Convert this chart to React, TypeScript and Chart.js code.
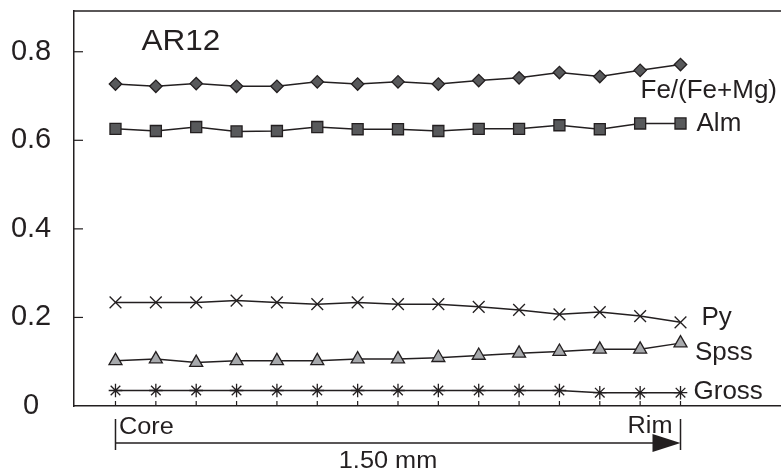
import { useEffect, useRef } from 'react';
import { Chart, registerables } from 'chart.js';

Chart.register(...registerables);

// ---- data ----
const pointIndex = [0, 1, 2, 3, 4, 5, 6, 7, 8, 9, 10, 11, 12, 13, 14];
const feMg = [0.727, 0.722, 0.728, 0.722, 0.722, 0.732, 0.727, 0.732, 0.727, 0.735, 0.741, 0.753, 0.744, 0.758, 0.771];
const alm = [0.626, 0.621, 0.630, 0.620, 0.621, 0.630, 0.625, 0.625, 0.621, 0.626, 0.626, 0.634, 0.625, 0.638, 0.638];
const py = [0.234, 0.234, 0.234, 0.238, 0.234, 0.230, 0.234, 0.230, 0.230, 0.224, 0.217, 0.207, 0.212, 0.203, 0.189];
const spss = [0.102, 0.106, 0.098, 0.102, 0.102, 0.102, 0.106, 0.106, 0.109, 0.114, 0.119, 0.123, 0.128, 0.128, 0.142];
const gross = [0.035, 0.035, 0.035, 0.035, 0.035, 0.035, 0.035, 0.035, 0.035, 0.035, 0.035, 0.035, 0.030, 0.030, 0.030];
const yTickValues = [0, 0.2, 0.4, 0.6, 0.8];
const seriesNames = ['Fe/(Fe+Mg)', 'Alm', 'Py', 'Spss', 'Gross'];
const sampleName = 'AR12';
const coreLabel = 'Core';
const rimLabel = 'Rim';
const distanceLabel = '1.50 mm';

const seriesValues = [feMg, alm, py, spss, gross];

const INK = '#231f20';
const FONT = '"Liberation Sans", Arial, sans-serif';

function stretchedText(ctx: CanvasRenderingContext2D, text: string, x: number, y: number, size: number, sx: number) {
  ctx.save();
  ctx.font = `${size}px ${FONT}`;
  ctx.fillStyle = INK;
  ctx.textBaseline = 'alphabetic';
  ctx.textAlign = 'left';
  ctx.translate(x, y);
  ctx.scale(sx, 1);
  ctx.fillText(text, 0, 0);
  ctx.restore();
}

// label offsets relative to the last point of each series
const labelOffsets: [number, number][] = [[-40, 33], [16, 8], [21, 2.5], [14.5, 17.3], [13, 6.3]];

const decorPlugin = {
  id: 'decor',
  afterDraw(chart: any) {
    const ctx: CanvasRenderingContext2D = chart.ctx;
    const { left, top, bottom } = chart.chartArea;
    const xs = chart.scales.x;
    const ys = chart.scales.y;
    ctx.save();
    ctx.strokeStyle = INK;
    ctx.lineWidth = 1.5;
    // top frame line
    ctx.beginPath();
    ctx.moveTo(left - 0.75, top);
    ctx.lineTo(chart.width, top);
    ctx.stroke();
    // inward y ticks
    ctx.lineWidth = 1.2;
    yTickValues.forEach((v) => {
      if (v === 0) return;
      const y = ys.getPixelForValue(v);
      ctx.beginPath();
      ctx.moveTo(left, y);
      ctx.lineTo(left + 9, y);
      ctx.stroke();
    });
    // inward x ticks at each analysis point
    pointIndex.forEach((i) => {
      const x = xs.getPixelForValue(i);
      ctx.beginPath();
      ctx.moveTo(x, bottom);
      ctx.lineTo(x, bottom - 5);
      ctx.stroke();
    });
    ctx.restore();

    // series labels
    seriesValues.forEach((vals, k) => {
      const last = vals.length - 1;
      const x = xs.getPixelForValue(pointIndex[last]);
      const y = ys.getPixelForValue(vals[last]);
      stretchedText(ctx, seriesNames[k], x + labelOffsets[k][0], y + labelOffsets[k][1], 25, 1.04);
    });

    // sample name
    stretchedText(ctx, sampleName, left + 67.5, top + 39, 30, 1.05);

    // core-rim scale bar
    const x0 = xs.getPixelForValue(pointIndex[0]);
    const x1 = xs.getPixelForValue(pointIndex[pointIndex.length - 1]);
    const barY = bottom + 37;
    ctx.save();
    ctx.strokeStyle = INK;
    ctx.fillStyle = INK;
    ctx.lineWidth = 1.5;
    ctx.beginPath();
    ctx.moveTo(x0, bottom + 13);
    ctx.lineTo(x0, bottom + 44);
    ctx.moveTo(x1, bottom + 13);
    ctx.lineTo(x1, bottom + 44);
    ctx.moveTo(x0, barY);
    ctx.lineTo(x1 - 20, barY);
    ctx.stroke();
    ctx.beginPath();
    ctx.moveTo(x1, barY);
    ctx.lineTo(x1 - 28, barY - 9);
    ctx.lineTo(x1 - 28, barY + 9);
    ctx.closePath();
    ctx.fill();
    ctx.restore();
    stretchedText(ctx, coreLabel, x0 + 3.5, bottom + 27.5, 23, 1.1);
    stretchedText(ctx, rimLabel, x1 - 53, bottom + 26.5, 23, 1.1);
    ctx.save();
    ctx.font = `23px ${FONT}`;
    const dw = ctx.measureText(distanceLabel).width * 1.1;
    ctx.restore();
    stretchedText(ctx, distanceLabel, (x0 + x1) / 2 - dw / 2 - 10, bottom + 62, 23, 1.1);
  },
};

export default function App() {
  const ref = useRef<HTMLCanvasElement | null>(null);
  useEffect(() => {
    if (!ref.current) return;
    const mk = (data: number[], style: any, radius: number, bg: string) => ({
      data: data.map((v, i) => ({ x: pointIndex[i], y: v })),
      borderColor: INK,
      borderWidth: 1.5,
      pointStyle: style,
      pointRadius: radius,
      pointBackgroundColor: bg,
      pointBorderColor: INK,
      pointBorderWidth: 1.3,
      tension: 0,
    });
    const chart = new Chart(ref.current, {
      type: 'line',
      data: {
        datasets: [
          mk(feMg, 'rectRot', 6.2, '#58595b'),
          mk(alm, 'rect', 7.8, '#58595b'),
          mk(py, 'crossRot', 8.3, INK),
          mk(spss, 'triangle', 7.5, '#a7a9ac'),
          mk(gross, 'star', 6.8, INK),
        ] as any,
      },
      options: {
        animation: false,
        responsive: false,
        devicePixelRatio: 1,
        layout: { autoPadding: false, padding: { top: 11, left: 0, right: 0, bottom: 0 } },
        plugins: { legend: { display: false }, tooltip: { enabled: false } },
        scales: {
          x: {
            type: 'linear',
            min: -1.028,
            max: 16.49,
            ticks: { display: false },
            grid: { display: false, drawTicks: false },
            border: { display: true, color: INK, width: 1.5 },
            afterFit: (s: any) => { s.height = 63; s.paddingLeft = 0; s.paddingRight = 0; },
          },
          y: {
            type: 'linear',
            min: 0,
            max: 0.892,
            afterBuildTicks: (s: any) => {
              s.ticks = yTickValues.map((v) => ({ value: v }));
            },
            ticks: {
              color: INK,
              padding: 22.8,
              crossAlign: 'center',
              font: { family: FONT, size: 29, lineHeight: 0.6 },
              callback: (v: any) => String(Math.round(Number(v) * 10) / 10),
            },
            grid: { display: false, drawTicks: false },
            border: { display: true, color: INK, width: 1.5 },
            afterFit: (s: any) => { s.width = 74; s.paddingTop = 0; s.paddingBottom = 0; },
          },
        },
      } as any,
      plugins: [decorPlugin],
    });
    return () => chart.destroy();
  }, []);
  return (
    <div style={{ position: 'fixed', left: 0, top: 0, width: 781, height: 469, background: '#fff' }}>
      <canvas ref={ref} width={781} height={469} style={{ display: 'block', width: 781, height: 469 }} />
    </div>
  );
}
